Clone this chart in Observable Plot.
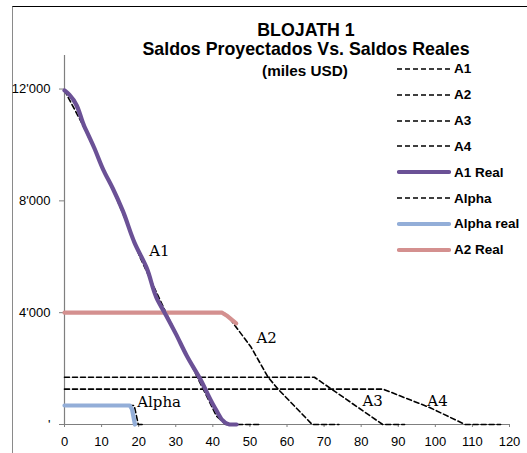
<!DOCTYPE html>
<html>
<head>
<meta charset="utf-8">
<script src="https://cdn.jsdelivr.net/npm/d3@7"></script>
<script src="https://cdn.jsdelivr.net/npm/@observablehq/plot@0.6"></script>
<style>
  body { margin: 0; background: #fff; }
  #wrap { position: relative; width: 527px; height: 453px; overflow: hidden; font-family: "Liberation Sans", Arial, sans-serif; }
  #border { position: absolute; left: 12px; top: 6px; width: 600px; height: 600px; border-top: 1.5px solid #000; border-left: 1.5px solid #8a8a8a; box-sizing: border-box; }
  #title { position: absolute; left: 106px; width: 400px; top: 21px; text-align: center; font-weight: bold; color: #000; }
  #title .l1, #title .l2 { font-size: 17.8px; line-height: 19px; }
  #title .l3 { font-size: 15.3px; line-height: 23px; margin-left: -2px; }
  #legend { position: absolute; left: 397px; top: 56px; font-weight: bold; font-size: 13.5px; }
  #legend .item { display: flex; align-items: center; height: 25.85px; }
  #legend svg { margin-right: 3px; }
  #chart { position: absolute; left: 0; top: 0; }
</style>
</head>
<body>
<div id="wrap">
  <div id="border"></div>
  <div id="chart"></div>
  <div id="title"><div class="l1">BLOJATH 1</div><div class="l2">Saldos Proyectados Vs. Saldos Reales</div><div class="l3">(miles USD)</div></div>
  <div id="legend"></div>
</div>
<script>
// ---- data (x = period, y = balance in thousands USD) ----
const a1Proj   = [[0,11950],[5,10700],[10,9300],[14,8100],[17,7150],[20.3,6000],[24,4950],[27.9,3850],[32,2750],[35.6,1750],[41,300],[43.5,0],[53,0]];
const a2Proj   = [[0,4000],[43,4000],[44.5,3800],[50.3,2770],[54.9,1690],[57.6,1265],[66.8,0],[74,0]];
const a3Proj   = [[0,1690],[67.4,1690],[85.8,0],[91.7,0]];
const a4Proj   = [[0,1265],[85.9,1265],[98.6,600],[108,0],[117.6,0]];
const a1Real   = [[0,11950],[1.3,11800],[5.4,10650],[8,9900],[10.5,9100],[13,8450],[15.7,7650],[18.9,6500],[22.1,5620],[25.1,4450],[27,4000],[30,3250],[33,2450],[36.5,1650],[41,500],[43.2,80],[44.5,0],[46.4,0]];
const alphaProj = [[0,680],[18.8,680],[19.9,0],[21,0]];
const alphaReal = [[0,680],[17.6,680],[18.2,550],[19,0]];
const a2Real   = [[0,4000],[42.5,4000],[43.7,3900],[46.3,3620]];

const seriesNames = ["A1","A2","A3","A4","A1 Real","Alpha","Alpha real","A2 Real"];
const yTicks = [0, 4000, 8000, 12000];
const xTicks = [0,10,20,30,40,50,60,70,80,90,100,110,120];

const centerLabels = [
  {x: 25.6, y: 6190, text: "A1"},
  {x: 54.5, y: 3080, text: "A2"},
  {x: 83.1, y: 830,  text: "A3"},
  {x: 100.6, y: 830, text: "A4"}
];
const startLabels = [
  {x: 19.6, y: 790, text: "Alpha"}
];

// ---- styles ----
const purple = "#6B5196", blue = "#93AED8", pink = "#D4908F";
const dashed = {stroke: "#000", strokeWidth: 1.6, strokeDasharray: "5,3"};
const solid = c => ({stroke: c, strokeWidth: 4.2, strokeLinecap: "round", strokeLinejoin: "round"});
const styles = [dashed, dashed, dashed, dashed, solid(purple), dashed, solid(blue), solid(pink)];

const fmt = d => d === 0 ? "'" : d3.format(",")(d).replace(/,/g, "'");
const axisColor = "#7f7f7f";
const serif = "'Palatino Linotype','Book Antiqua','DejaVu Serif',serif";

const line = (data, st, curve = "linear") => Plot.line(data, {x: d => d[0], y: d => d[1], curve, ...st});

const plot = Plot.plot({
  width: 527, height: 453,
  marginLeft: 64, marginRight: 18, marginTop: 55, marginBottom: 29,
  style: {fontFamily: "'Liberation Sans', Arial, sans-serif", fontSize: "13px", color: "#000", background: "transparent"},
  x: {domain: [0, 120], ticks: xTicks, tickFormat: d => d},
  y: {domain: [0, 13200], ticks: yTicks, tickFormat: fmt},
  marks: [
    Plot.ruleX([0], {y1: 0, y2: 13200, stroke: axisColor, strokeWidth: 1.2}),
    Plot.ruleY([0], {stroke: axisColor, strokeWidth: 1.2}),
    Plot.axisX({ticks: xTicks, tickSize: 3, tickPadding: 9, stroke: axisColor, tickFormat: d => d, label: null}),
    Plot.axisY({ticks: yTicks, tickSize: 5, tickPadding: 9, stroke: axisColor, tickFormat: fmt, label: null}),
    line(a1Proj, styles[0]),
    line(a2Proj, styles[1]),
    line(a3Proj, styles[2]),
    line(a4Proj, styles[3]),
    line(a2Real, styles[7]),
    line(a1Real, styles[4], "monotone-y"),
    line(alphaProj, styles[5]),
    line(alphaReal, styles[6]),
    Plot.text(centerLabels, {x: "x", y: "y", text: "text", textAnchor: "middle", fontFamily: serif, fontSize: 15, fill: "#000"}),
    Plot.text(startLabels, {x: "x", y: "y", text: "text", textAnchor: "start", fontFamily: serif, fontSize: 15, fill: "#000"})
  ]
});
document.getElementById("chart").appendChild(plot);

// ---- legend ----
const legend = d3.select("#legend");
seriesNames.forEach((name, i) => {
  const st = styles[i];
  const item = legend.append("div").attr("class", "item");
  const s = item.append("svg").attr("width", 54).attr("height", 10);
  s.append("line").attr("x1", st.strokeWidth > 2 ? 2 : 0).attr("x2", st.strokeWidth > 2 ? 52 : 54).attr("y1", 5).attr("y2", 5)
    .attr("stroke", st.stroke).attr("stroke-width", st.strokeWidth)
    .attr("stroke-dasharray", st.strokeDasharray || null)
    .attr("stroke-linecap", st.strokeLinecap || "butt");
  item.append("span").text(name);
});
</script>
</body>
</html>
